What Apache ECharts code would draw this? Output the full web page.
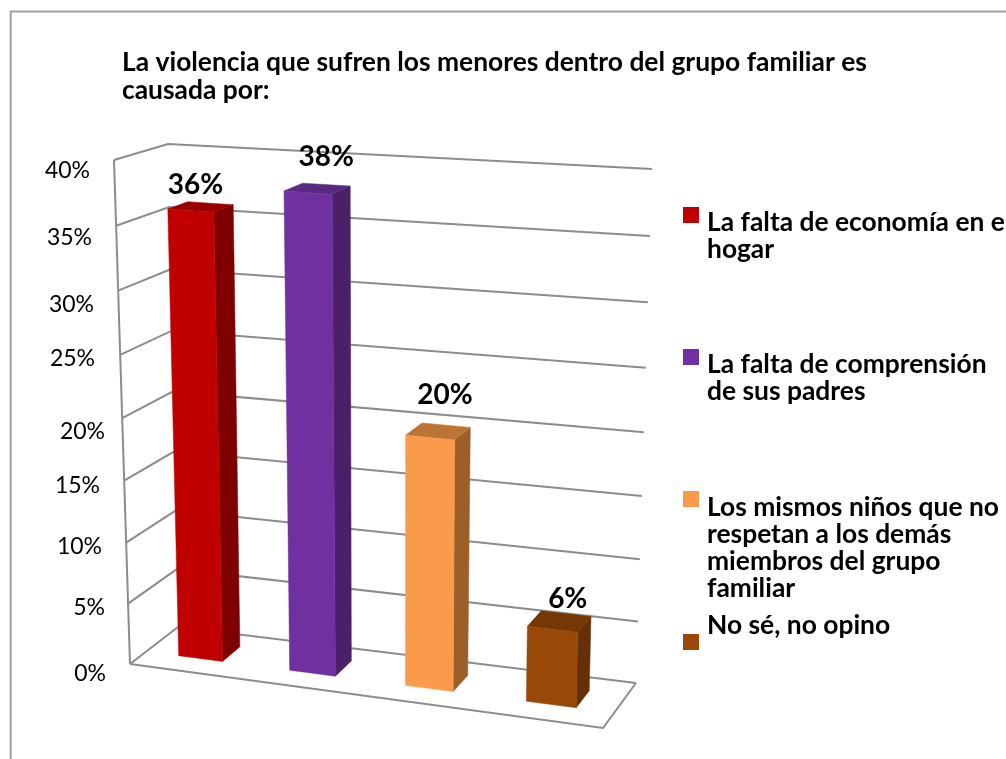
<!DOCTYPE html>
<html><head><meta charset="utf-8">
<style>html,body{margin:0;padding:0;background:#fff;overflow:hidden}#c{width:1006px;height:759px}</style>
<script src="https://cdn.jsdelivr.net/npm/echarts@6/dist/echarts.min.js"></script>
</head><body><div id="c"></div>
<script>
const titleText = 'La violencia que sufren los menores dentro del grupo familiar es\ncausada por:';
const categories = ['La falta de economía en el\nhogar','La falta de comprensión\nde sus padres','Los mismos niños que no\nrespetan a los demás\nmiembros del grupo\nfamiliar','No sé, no opino'];
const values = [36,38,20,6];
const tickValues = [0,5,10,15,20,25,30,35,40];
const tickLabels = ['0%','5%','10%','15%','20%','25%','30%','35%','40%'];
// styling
const frontColors = ['#C00000','#7030A0','#FB9A4B','#984807'];
const sideColors  = ['#7F0000','#4A2068','#9C5F2A','#653005'];
const topColors   = ['#990000','#582A80','#BB7433','#753804'];
// layout of the oblique box (screen corners of floor and top planes: front-left, front-right, back-right, back-left)
const floorQuad = [[130,664],[603,728],[636,683],[178,627]];
const topQuad   = [[114,160],[613,196],[652,169],[168,144]];
const heightWarp = 1.05, widthWarp = 1.09, barFrac = 0.4, depthNear = 0.34, depthFar = 0.72;
const tickLabelRight = [106,105,102,100,105,95,94,92,90];
const tickLabelY = [674,608,547,486,432,359,305,238,171];
const valueLabelOffset = [[-5,-22],[9,-32],[7,-36],[8.5,-23]];
// legend: marker top, icon box height (marker + offset to the text block)
const legendIconBox = [58,58,114,50];
const legendTops = [207,349,491,600];
const FONT = 'Lato';
const lineColor = '#8C8C8C';

function bilinear(q,u,v){
  const out=[0,1].map(k=>{
    const a=q[0][k]+(q[1][k]-q[0][k])*u, b=q[3][k]+(q[2][k]-q[3][k])*u;
    return a+(b-a)*v;
  });
  return out;
}
function project(cs,p,v){
  const u0=(p[0]-cs.x)/cs.width, t=(cs.y+cs.height-p[1])/cs.height;
  const u=u0/(u0+(1-u0)*widthWarp);
  const s=t/(t+(1-t)*heightWarp);
  const A=bilinear(floorQuad,u,v),B=bilinear(topQuad,u,v);
  return [A[0]+(B[0]-A[0])*s,A[1]+(B[1]-A[1])*s];
}
function line(pts,w){return {type:'polyline',shape:{points:pts},style:{stroke:lineColor,lineWidth:w||2,fill:null},silent:true};}

function renderGrid(params,api){
  const cs=params.coordSys, i=api.value(0), val=tickValues[i];
  const xa=cs.x, xb=cs.x+cs.width;
  const y=api.coord([0,val])[1];
  const ch=[line([project(cs,[xa,y],0),project(cs,[xa,y],1),project(cs,[xb,y],1)])];
  if(val===0){
    ch.push(line([project(cs,[xa,y],0),project(cs,[xb,y],0),project(cs,[xb,y],1)]));
    ch.push(line([project(cs,[xa,y],0),project(cs,[xa,cs.y],0)]));
  }
  ch.push({type:'text',style:{text:tickLabels[i],x:tickLabelRight[i],y:tickLabelY[i],align:'right',verticalAlign:'middle',fill:'#000',font:'400 23px '+FONT},silent:true});
  return {type:'group',children:ch};
}
function renderBar(params,api){
  const cs=params.coordSys, i=api.value(0), val=api.value(1);
  const top=api.coord([i,val]), base=api.coord([i,0]);
  const w=api.size([1,0])[0]*barFrac;
  const l=top[0]-w/2,r=top[0]+w/2;
  const P=(x,y,v)=>project(cs,[x,y],v);
  const poly=(pts,c)=>({type:'polygon',shape:{points:pts},style:{fill:c,stroke:c,lineWidth:0.5}});
  const tc=P(top[0],top[1],(depthNear+depthFar)/2), off=valueLabelOffset[i];
  return {type:'group',children:[
    poly([P(r,base[1],depthNear),P(r,base[1],depthFar),P(r,top[1],depthFar),P(r,top[1],depthNear)],sideColors[i]),
    poly([P(l,top[1],depthNear),P(r,top[1],depthNear),P(r,top[1],depthFar),P(l,top[1],depthFar)],topColors[i]),
    poly([P(l,base[1],depthNear),P(r,base[1],depthNear),P(r,top[1],depthNear),P(l,top[1],depthNear)],frontColors[i]),
    {type:'text',style:{text:val+'%',x:tc[0]+off[0],y:tc[1]+off[1],align:'center',verticalAlign:'middle',fill:'#000',font:'700 28px '+FONT},silent:true}
  ]};
}
function legendIcon(i){
  const h=legendIconBox[i];
  const y0=(i===3)?h-16:0;
  return 'path://M0 '+y0+'H16V'+(y0+16)+'H0Z M19 0L19 0 M19 '+h+'L19 '+h;
}
const chart=echarts.init(document.getElementById('c'),null,{renderer:'canvas'});
chart.setOption({
  animation:false,backgroundColor:'#fff',
  title:{text:titleText,left:122,top:48,padding:0,textStyle:{fontFamily:FONT,fontSize:26.4,fontWeight:700,color:'#000',lineHeight:28}},
  grid:{left:130,top:160,width:500,height:500},
  xAxis:{type:'category',data:categories.map((c,i)=>i),show:false},
  yAxis:{type:'value',min:0,max:40,interval:5,show:false},
  legend:categories.map((c,i)=>({data:[{name:c,icon:legendIcon(i)}],orient:'vertical',left:683,top:legendTops[i],padding:0,itemWidth:19,itemHeight:legendIconBox[i],itemGap:0,selectedMode:false,
    textStyle:{fontFamily:FONT,fontSize:26.4,fontWeight:700,color:'#000',lineHeight:27}})),
  graphic:[{type:'polyline',shape:{points:[[10.7,759],[10.7,11.5],[1006,11.5]]},style:{stroke:'#A0A0A0',lineWidth:2,fill:null},silent:true}],
  series:[
    {type:'custom',name:'grid',coordinateSystem:'cartesian2d',renderItem:renderGrid,data:tickValues.map((t,i)=>[i,t]),silent:true,z:1,clip:false},
    ...categories.map((c,i)=>({type:'custom',name:c,coordinateSystem:'cartesian2d',renderItem:renderBar,itemStyle:{color:frontColors[i]},data:[[i,values[i]]],silent:true,z:2,clip:false}))
  ]
});
</script></body></html>
